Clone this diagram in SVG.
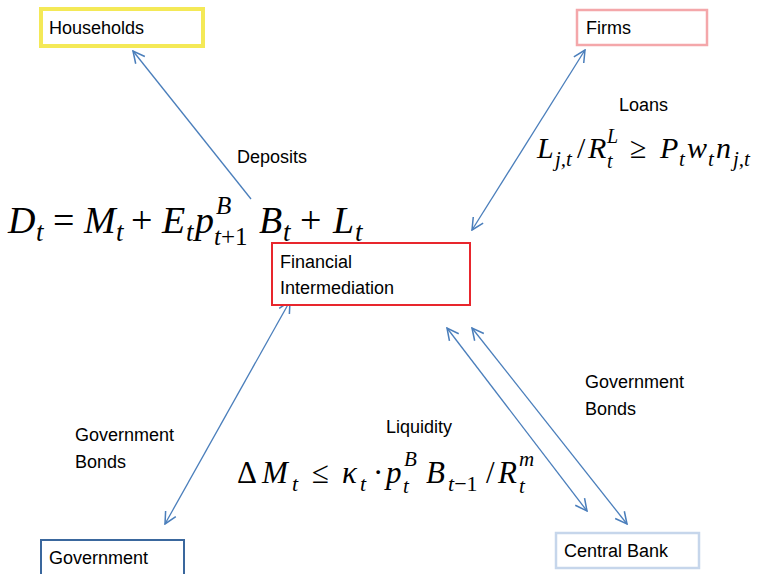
<svg xmlns="http://www.w3.org/2000/svg" width="762" height="574" viewBox="0 0 762 574">
<style>
.lbl{font-family:"Liberation Sans",Arial,sans-serif;font-size:18px;fill:#000}
.m{font-family:"Liberation Serif","Times New Roman",serif;font-style:italic;fill:#000}
.r{font-style:normal}
.box{fill:#fff}
.con{fill:none;stroke:#4a7ebb;stroke-width:1.3}
</style>
<defs>
<marker id="ah" markerUnits="userSpaceOnUse" markerWidth="14" markerHeight="14" viewBox="0 0 12 12" refX="11" refY="6" orient="auto-start-reverse">
<path d="M1,1 L11,6 L1,11" fill="none" stroke="#4a7ebb" stroke-width="1.3"/>
</marker>
</defs>
<rect width="762" height="574" fill="#fff"/>
<g id="connectors">
<line class="con" x1="251" y1="199" x2="133" y2="51" marker-end="url(#ah)"/>
<line class="con" x1="472" y1="230" x2="585" y2="50" marker-start="url(#ah)" marker-end="url(#ah)"/>
<line class="con" x1="165" y1="524" x2="290" y2="301" marker-start="url(#ah)" marker-end="url(#ah)"/>
<line class="con" x1="447" y1="328" x2="587" y2="511" marker-start="url(#ah)" marker-end="url(#ah)"/>
<line class="con" x1="472" y1="328" x2="627" y2="524" marker-start="url(#ah)" marker-end="url(#ah)"/>
</g>
<g id="households">
<rect class="box" x="41" y="9" width="162" height="37" stroke="#f4e957" stroke-width="4"/>
<text class="lbl" x="49" y="34">Households</text>
</g>
<g id="firms">
<rect class="box" x="577" y="10" width="130" height="35" stroke="#f4a7aa" stroke-width="2.5"/>
<text class="lbl" x="586" y="34">Firms</text>
</g>
<g id="financial-intermediation">
<rect class="box" x="272" y="243" width="198" height="62" stroke="#e8262d" stroke-width="2"/>
<text class="lbl" x="280" y="268">Financial</text>
<text class="lbl" x="280" y="294">Intermediation</text>
</g>
<g id="government">
<rect class="box" x="41" y="540" width="143" height="42" stroke="#3a679d" stroke-width="2"/>
<text class="lbl" x="49" y="564">Government</text>
</g>
<g id="central-bank">
<rect class="box" x="556" y="533" width="143" height="35" stroke="#c6d6eb" stroke-width="2.5"/>
<text class="lbl" x="564" y="557">Central Bank</text>
</g>
<g id="labels">
<text class="lbl" x="237" y="163">Deposits</text>
<text class="lbl" x="619" y="111">Loans</text>
<text class="lbl" x="75" y="441">Government</text>
<text class="lbl" x="75" y="468">Bonds</text>
<text class="lbl" x="386" y="433">Liquidity</text>
<text class="lbl" x="585" y="388">Government</text>
<text class="lbl" x="585" y="415">Bonds</text>
</g>
<g id="formula-deposits" class="m">
<text x="8" y="233" font-size="38">D</text>
<text x="36" y="241" font-size="27">t</text>
<text x="53" y="233" font-size="38" class="r">=</text>
<text x="84" y="233" font-size="38">M</text>
<text x="116" y="241" font-size="27">t</text>
<text x="131" y="233" font-size="38" class="r">+</text>
<text x="162" y="233" font-size="38">E</text>
<text x="186" y="241" font-size="27">t</text>
<text x="195" y="233" font-size="38">p</text>
<text x="216" y="214" font-size="25">B</text>
<text x="214" y="245" font-size="25">t<tspan class="r">+1</tspan></text>
<text x="259" y="233" font-size="38">B</text>
<text x="283" y="241" font-size="27">t</text>
<text x="300" y="233" font-size="38" class="r">+</text>
<text x="333" y="233" font-size="38">L</text>
<text x="355" y="241" font-size="27">t</text>
</g>
<g id="formula-loans" class="m">
<text x="537" y="158" font-size="30">L</text>
<text x="555" y="166" font-size="21">j,t</text>
<text x="577" y="158" font-size="30" class="r">/</text>
<text x="588" y="158" font-size="30">R</text>
<text x="607" y="143" font-size="20">L</text>
<text x="607" y="168" font-size="20">t</text>
<text x="630" y="158" font-size="30" class="r">≥</text>
<text x="660" y="158" font-size="30">P</text>
<text x="679" y="166" font-size="21">t</text>
<text x="687" y="158" font-size="30">w</text>
<text x="708" y="166" font-size="21">t</text>
<text x="716" y="158" font-size="30">n</text>
<text x="733" y="166" font-size="21">j,t</text>
</g>
<g id="formula-liquidity" class="m">
<text x="237" y="483" font-size="31" class="r">Δ</text>
<text x="262" y="483" font-size="31">M</text>
<text x="292" y="491" font-size="22">t</text>
<text x="312" y="483" font-size="31" class="r">≤</text>
<text x="342" y="483" font-size="31">κ</text>
<text x="360" y="491" font-size="22">t</text>
<text x="373" y="483" font-size="31" class="r">·</text>
<text x="386" y="483" font-size="31">p</text>
<text x="404" y="466" font-size="21">B</text>
<text x="403" y="493" font-size="21">t</text>
<text x="426" y="483" font-size="31">B</text>
<text x="448" y="491" font-size="22">t<tspan class="r">−1</tspan></text>
<text x="486" y="483" font-size="31" class="r">/</text>
<text x="498" y="483" font-size="31">R</text>
<text x="519" y="466" font-size="21">m</text>
<text x="519" y="493" font-size="21">t</text>
</g>
</svg>
